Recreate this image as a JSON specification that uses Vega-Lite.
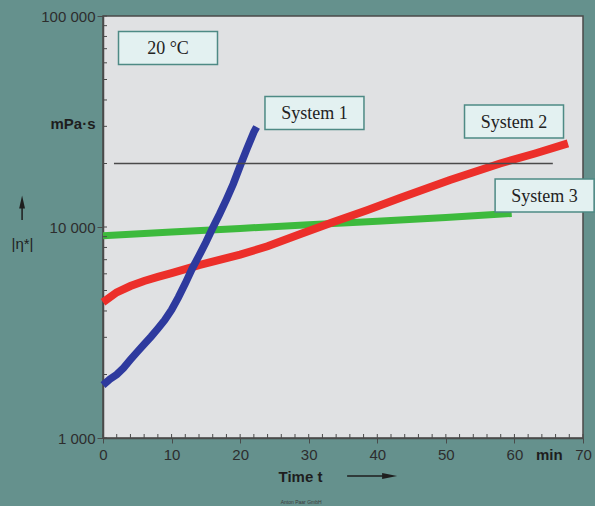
{
  "$schema": "https://vega.github.io/schema/vega-lite/v6.json",
  "width": 480,
  "height": 422,
  "autosize": {"type": "none"},
  "padding": {"left": 103, "top": 16, "right": 12, "bottom": 68},
  "background": "#65918d",
  "config": {
    "view": {"fill": "#e0e1e3", "stroke": "#4a4a4a", "strokeWidth": 1.5},
    "axis": {
      "grid": false,
      "domainColor": "#4a4a4a",
      "domainWidth": 1.5,
      "tickColor": "#4a4a4a",
      "tickWidth": 1,
      "labelFont": "Liberation Sans",
      "labelFontSize": 15,
      "labelColor": "#2d2d2d",
      "titleFont": "Liberation Sans",
      "titleFontSize": 15,
      "titleColor": "#1e1e1e",
      "labelOverlap": false,
      "labelBound": false,
      "labelFlush": false
    }
  },
  "datasets": {
    "system1": [
      {"t": 0, "eta": 1780}, {"t": 1, "eta": 1900}, {"t": 2, "eta": 2000}, {"t": 3, "eta": 2150},
      {"t": 4, "eta": 2350}, {"t": 5, "eta": 2560}, {"t": 6, "eta": 2780}, {"t": 7, "eta": 3020},
      {"t": 8, "eta": 3300}, {"t": 9, "eta": 3620}, {"t": 10, "eta": 4050}, {"t": 11, "eta": 4650},
      {"t": 12, "eta": 5400}, {"t": 13, "eta": 6350}, {"t": 14, "eta": 7300}, {"t": 15, "eta": 8450},
      {"t": 16, "eta": 9900}, {"t": 17, "eta": 11500}, {"t": 18, "eta": 13500}, {"t": 19, "eta": 16000},
      {"t": 20, "eta": 19500}, {"t": 21, "eta": 23500}, {"t": 22, "eta": 28200}, {"t": 22.4, "eta": 29800}
    ],
    "system2": [
      {"t": 0, "eta": 4400}, {"t": 2, "eta": 4900}, {"t": 4, "eta": 5250}, {"t": 6, "eta": 5550},
      {"t": 8, "eta": 5800}, {"t": 10, "eta": 6050}, {"t": 14, "eta": 6600}, {"t": 20, "eta": 7400},
      {"t": 24, "eta": 8100}, {"t": 28.7, "eta": 9250}, {"t": 33.6, "eta": 10560}, {"t": 38.5, "eta": 12000},
      {"t": 43.3, "eta": 13720}, {"t": 50.6, "eta": 16700}, {"t": 57.9, "eta": 20000}, {"t": 63, "eta": 22300},
      {"t": 67.8, "eta": 24900}
    ],
    "system3": [
      {"t": 0, "eta": 9080}, {"t": 10, "eta": 9480}, {"t": 20, "eta": 9850}, {"t": 30, "eta": 10250},
      {"t": 40, "eta": 10650}, {"t": 50, "eta": 11100}, {"t": 59.6, "eta": 11600}
    ],
    "reference": [
      {"t": 1.6, "eta": 20000}, {"t": 65.6, "eta": 20000}
    ],
    "labels": [
      {"label": "20 °C", "t": 9.48, "eta": 70500},
      {"label": "System 1", "t": 30.84, "eta": 34700},
      {"label": "System 2", "t": 59.94, "eta": 31600},
      {"label": "System 3", "t": 64.4, "eta": 14100}
    ],
    "xticks": [
      {"t": 0}, {"t": 2}, {"t": 4}, {"t": 6}, {"t": 8}, {"t": 10}, {"t": 12}, {"t": 14}, {"t": 16}, {"t": 18},
      {"t": 20}, {"t": 22}, {"t": 24}, {"t": 26}, {"t": 28}, {"t": 30}, {"t": 32}, {"t": 34}, {"t": 36}, {"t": 38},
      {"t": 40}, {"t": 42}, {"t": 44}, {"t": 46}, {"t": 48}, {"t": 50}, {"t": 52}, {"t": 54}, {"t": 56}, {"t": 58},
      {"t": 60}, {"t": 62}, {"t": 64}, {"t": 66}, {"t": 68}, {"t": 70}
    ],
    "yticks": [
      {"eta": 1000}, {"eta": 2000}, {"eta": 3000}, {"eta": 4000}, {"eta": 5000}, {"eta": 6000}, {"eta": 7000},
      {"eta": 8000}, {"eta": 9000}, {"eta": 10000}, {"eta": 20000}, {"eta": 30000}, {"eta": 40000}, {"eta": 50000},
      {"eta": 60000}, {"eta": 70000}, {"eta": 80000}, {"eta": 90000}, {"eta": 100000}
    ],
    "xarrow": [{"t": 35.6, "t2": 41.5, "eta": 660, "head": 41.8}],
    "yarrow": [{"t": -11.8, "eta": 10790, "eta2": 12700, "head": 13130}],
    "credit": [{"t": 28.9, "eta": 497, "label": "Anton Paar GmbH"}]
  },
  "layer": [
    {
      "data": {"name": "system3"},
      "mark": {"type": "line", "color": "#3dba3d", "strokeWidth": 7},
      "encoding": {
        "x": {
          "field": "t", "type": "quantitative",
          "scale": {"domain": [0, 70], "nice": false, "zero": false},
          "axis": {
            "title": "Time t",
            "titleFontWeight": "bold",
            "titleX": 197,
            "titleY": 38,
            "titleAlign": "center",
            "titleBaseline": "middle",
            "values": [0, 10, 20, 30, 40, 50, 60, 65, 70],
            "labelExpr": "datum.value == 65 ? 'min' : datum.label",
            "labelOverlap": false,
            "labelFontWeight": {"condition": {"test": "datum.value == 65", "value": "bold"}, "value": "normal"},
            "labelColor": {"condition": {"test": "datum.value == 65", "value": "#1e1e1e"}, "value": "#2d2d2d"},
            "tickSize": 5,
            "tickOpacity": {"condition": {"test": "datum.value == 65", "value": 0}, "value": 1},
            "labelPadding": 4
          }
        },
        "y": {
          "field": "eta", "type": "quantitative",
          "scale": {"type": "log", "domain": [1000, 100000], "nice": false},
          "axis": {
            "title": "|η*|",
            "titleAngle": 0,
            "titleX": -81,
            "titleY": 227,
            "titleAlign": "center",
            "titleBaseline": "middle",
            "titleFontWeight": "normal",
            "values": [1000, 10000, 31100, 100000],
            "labelOverlap": false,
            "labelExpr": "datum.value == 31100 ? 'mPa·s' : datum.value == 1000 ? '1 000' : datum.value == 10000 ? '10 000' : '100 000'",
            "labelFontWeight": {"condition": {"test": "datum.value == 31100", "value": "bold"}, "value": "normal"},
            "labelColor": {"condition": {"test": "datum.value == 31100", "value": "#1e1e1e"}, "value": "#2d2d2d"},
            "tickSize": 6,
            "tickOpacity": {"condition": {"test": "datum.value == 31100", "value": 0}, "value": 1},
            "labelPadding": 2
          }
        }
      }
    },
    {
      "data": {"name": "xticks"},
      "mark": {"type": "tick", "orient": "vertical", "size": 4, "thickness": 1, "color": "#4a4a4a", "opacity": 1, "yOffset": -2},
      "encoding": {
        "x": {"field": "t", "type": "quantitative"},
        "y": {"datum": 1000, "type": "quantitative"}
      }
    },
    {
      "data": {"name": "yticks"},
      "mark": {"type": "tick", "orient": "horizontal", "size": 4, "thickness": 1, "color": "#4a4a4a", "opacity": 1, "xOffset": 2},
      "encoding": {
        "x": {"datum": 0, "type": "quantitative"},
        "y": {"field": "eta", "type": "quantitative"}
      }
    },
    {
      "data": {"name": "system2"},
      "mark": {"type": "line", "color": "#ec2f2a", "strokeWidth": 8},
      "encoding": {
        "x": {"field": "t", "type": "quantitative"},
        "y": {"field": "eta", "type": "quantitative"}
      }
    },
    {
      "data": {"name": "system1"},
      "mark": {"type": "line", "color": "#2e3a9e", "strokeWidth": 7.5},
      "encoding": {
        "x": {"field": "t", "type": "quantitative"},
        "y": {"field": "eta", "type": "quantitative"}
      }
    },
    {
      "data": {"name": "reference"},
      "mark": {"type": "line", "color": "#4a4a4a", "strokeWidth": 1.5},
      "encoding": {
        "x": {"field": "t", "type": "quantitative"},
        "y": {"field": "eta", "type": "quantitative"}
      }
    },
    {
      "data": {"name": "labels"},
      "mark": {
        "type": "point",
        "shape": "M-1,-0.333H1V0.333H-1Z",
        "size": 9801,
        "filled": true,
        "fill": "#e3f1f1",
        "stroke": "#4e8a85",
        "strokeWidth": 1.5,
        "opacity": 1
      },
      "encoding": {
        "x": {"field": "t", "type": "quantitative"},
        "y": {"field": "eta", "type": "quantitative"}
      }
    },
    {
      "data": {"name": "labels"},
      "mark": {
        "type": "text",
        "font": "Liberation Serif",
        "fontSize": 18,
        "color": "#222222",
        "align": "center",
        "baseline": "middle",
        "dy": 1
      },
      "encoding": {
        "x": {"field": "t", "type": "quantitative"},
        "y": {"field": "eta", "type": "quantitative"},
        "text": {"field": "label"}
      }
    },
    {
      "data": {"name": "xarrow"},
      "mark": {"type": "rule", "color": "#1e1e1e", "strokeWidth": 1.5},
      "encoding": {
        "x": {"field": "t", "type": "quantitative"},
        "x2": {"field": "t2"},
        "y": {"field": "eta", "type": "quantitative"}
      }
    },
    {
      "data": {"name": "xarrow"},
      "mark": {
        "type": "point",
        "shape": "M1,0L-1,-0.4L-1,0.4Z",
        "size": 225,
        "filled": true,
        "color": "#1e1e1e",
        "opacity": 1
      },
      "encoding": {
        "x": {"field": "head", "type": "quantitative"},
        "y": {"field": "eta", "type": "quantitative"}
      }
    },
    {
      "data": {"name": "yarrow"},
      "mark": {"type": "rule", "color": "#1e1e1e", "strokeWidth": 1.5},
      "encoding": {
        "x": {"field": "t", "type": "quantitative"},
        "y": {"field": "eta", "type": "quantitative"},
        "y2": {"field": "eta2"}
      }
    },
    {
      "data": {"name": "yarrow"},
      "mark": {
        "type": "point",
        "shape": "M0,-1L0.45,1L-0.45,1Z",
        "size": 169,
        "filled": true,
        "color": "#1e1e1e",
        "opacity": 1
      },
      "encoding": {
        "x": {"field": "t", "type": "quantitative"},
        "y": {"field": "head", "type": "quantitative"}
      }
    },
    {
      "data": {"name": "credit"},
      "mark": {
        "type": "text",
        "font": "Liberation Sans",
        "fontSize": 5,
        "color": "#3a3a3a",
        "align": "center",
        "baseline": "middle"
      },
      "encoding": {
        "x": {"field": "t", "type": "quantitative"},
        "y": {"field": "eta", "type": "quantitative"},
        "text": {"field": "label"}
      }
    }
  ]
}
